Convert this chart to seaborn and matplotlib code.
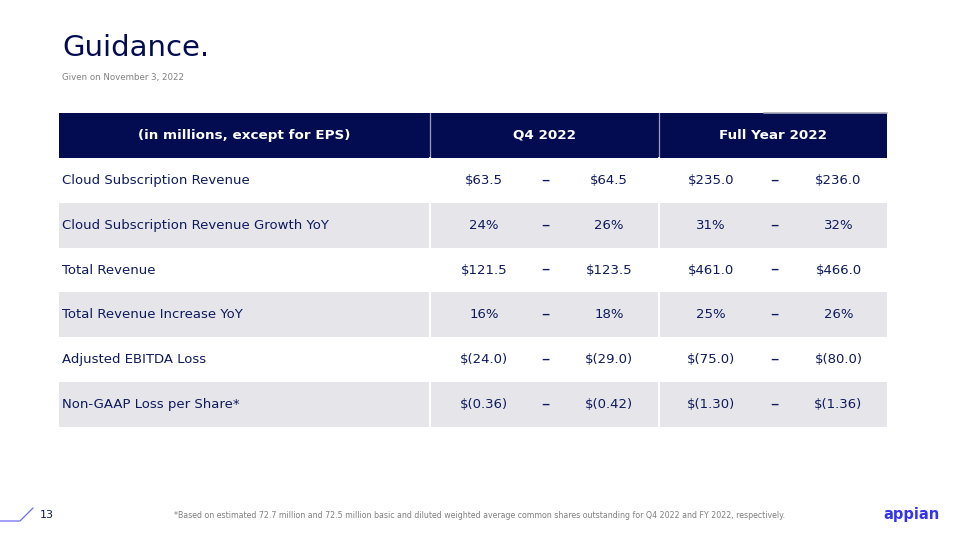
import matplotlib
matplotlib.use("Agg")
import matplotlib.pyplot as plt
import seaborn as sns
import numpy as np
from matplotlib.colors import ListedColormap

# table content
header = ["(in millions, except for EPS)", "Q4 2022", "Full Year 2022"]
metrics = [
    "Cloud Subscription Revenue",
    "Cloud Subscription Revenue Growth YoY",
    "Total Revenue",
    "Total Revenue Increase YoY",
    "Adjusted EBITDA Loss",
    "Non-GAAP Loss per Share*",
]
q4_low = ["$63.5", "24%", "$121.5", "16%", "$(24.0)", "$(0.36)"]
q4_high = ["$64.5", "26%", "$123.5", "18%", "$(29.0)", "$(0.42)"]
fy_low = ["$235.0", "31%", "$461.0", "25%", "$(75.0)", "$(1.30)"]
fy_high = ["$236.0", "32%", "$466.0", "26%", "$(80.0)", "$(1.36)"]

NAVY = "#030c50"
TEXT = "#0d1a5c"
GREY_ROW = "#e6e6ea"

sns.set_theme(style="white")
plt.rcParams["font.family"] = ["DejaVu Sans"]

fig = plt.figure(figsize=(9.6, 5.4), dpi=100)

# table: 29 narrow units wide (label 13, Q4 8, FY 8), header + 6 rows
ncol = 29
bg = np.zeros((len(metrics) + 1, ncol))
bg[0, :] = 2
for i in range(len(metrics)):
    bg[i + 1, :] = i % 2
ax = fig.add_axes([59 / 960, 1 - 427 / 540, (887 - 59) / 960, (427 - 113) / 540])
sns.heatmap(bg, cmap=ListedColormap(["white", GREY_ROW, NAVY]), vmin=0, vmax=2,
            cbar=False, ax=ax, xticklabels=False, yticklabels=False)

# column separators
for xs in (13, 21):
    ax.plot([xs, xs], [0, 1], color="#9a9dbd", lw=0.9)
    ax.plot([xs, xs], [1, len(metrics) + 1], color="white", lw=1.6)
ax.plot([24.7, 29], [0, 0], color="#a8a8b8", lw=1.2, clip_on=False)

hdr_x = [6.5, 17.0, 25.0]
for x, t in zip(hdr_x, header):
    ax.text(x, 0.5, t, color="white", fontsize=9.7, fontweight="bold",
            ha="center", va="center")

cols = [(14.88, q4_low), (19.26, q4_high), (22.84, fy_low), (27.3, fy_high)]
for i, m in enumerate(metrics):
    y = i + 1.5
    ax.text(0.1, y, m, color=TEXT, fontsize=9.5, ha="left", va="center")
    for x, vals in cols:
        ax.text(x, y, vals[i], color=TEXT, fontsize=9.5, ha="center", va="center")
    for x in (17.05, 25.05):
        ax.text(x, y - 0.02, "–", color=TEXT, fontsize=12, ha="center", va="center")

# title block
fig.text(62 / 960, 1 - 48 / 540, "Guidance.", color=NAVY, fontsize=21,
         ha="left", va="center")
fig.text(62 / 960, 1 - 78 / 540, "Given on November 3, 2022", color="#808080",
         fontsize=6.2, ha="left", va="center")

# footer
fig.add_artist(plt.Line2D([0, 20 / 960, 33 / 960],
                          [1 - 521 / 540, 1 - 521 / 540, 1 - 508 / 540],
                          color="#6f6cf0", lw=0.9))
fig.text(40 / 960, 1 - 515 / 540, "13", color=TEXT, fontsize=8, ha="left", va="center")
fig.text(480 / 960, 1 - 516 / 540,
         "*Based on estimated 72.7 million and 72.5 million basic and diluted weighted "
         "average common shares outstanding for Q4 2022 and FY 2022, respectively.",
         color="#808080", fontsize=5.65, ha="center", va="center")
fig.text(912 / 960, 1 - 514 / 540, "appian", color="#3434ee", fontsize=10.5,
         fontweight="bold", ha="center", va="center")

fig.savefig("out.png", dpi=100)
